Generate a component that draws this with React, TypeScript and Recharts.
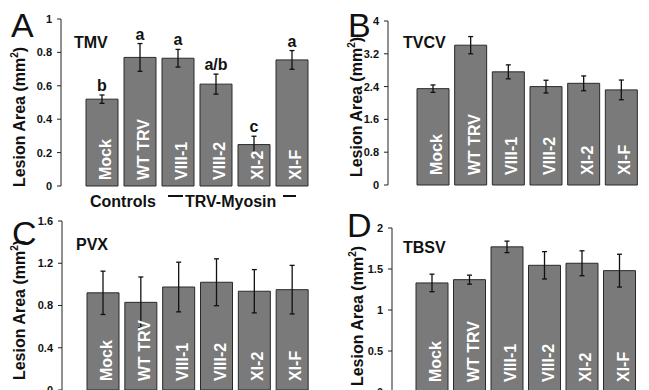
import { BarChart, Bar, XAxis, YAxis, ErrorBar, LabelList } from 'recharts';

const GROUPS = ['Mock', 'WT TRV', 'VIII-1', 'VIII-2', 'XI-2', 'XI-F'];

const TMV_MEAN = [0.52, 0.77, 0.765, 0.61, 0.248, 0.755];
const TMV_ERR = [0.025, 0.083, 0.053, 0.06, 0.05, 0.056];
const TMV_SIG = ['b', 'a', 'a', 'a/b', 'c', 'a'];
const TMV_TICKS = [0, 0.2, 0.4, 0.6, 0.8, 1];

const TVCV_MEAN = [2.35, 3.41, 2.76, 2.4, 2.48, 2.32];
const TVCV_ERR = [0.09, 0.21, 0.17, 0.155, 0.18, 0.24];
const TVCV_TICKS = [0, 0.8, 1.6, 2.4, 3.2, 4];

const PVX_MEAN = [0.92, 0.83, 0.975, 1.02, 0.935, 0.95];
const PVX_ERR = [0.205, 0.24, 0.235, 0.222, 0.205, 0.23];
const PVX_TICKS = [0, 0.4, 0.8, 1.2, 1.6];

const TBSV_MEAN = [1.33, 1.37, 1.77, 1.545, 1.57, 1.48];
const TBSV_ERR = [0.107, 0.055, 0.07, 0.167, 0.152, 0.2];
const TBSV_TICKS = [0, 0.5, 1, 1.5, 2];

const FONT = '"Liberation Sans", Arial, Helvetica, sans-serif';
const INK = '#222';

type PanelProps = {
  left: number;
  top: number;
  width: number;
  height: number;
  margin: { top: number; right: number; bottom: number; left: number };
  pad: { left: number; right: number };
  mean: number[];
  err: number[];
  ticks: number[];
  sig?: string[];
  lift: number;
};

function Panel({ left, top, width, height, margin, pad, mean, err, ticks, sig, lift }: PanelProps) {
  const data = GROUPS.map((name, i) => ({ name, value: mean[i], err: err[i], sig: sig ? sig[i] : '' }));
  const max = ticks[ticks.length - 1];

  // group name written upward inside each bar
  const inside = (p: any) => {
    const vb = p.viewBox ?? p;
    const cx = vb.x + vb.width / 2 + 9;
    const by = vb.y + vb.height - lift;
    return (
      <text
        x={cx}
        y={by}
        transform={`rotate(-90, ${cx}, ${by})`}
        fill="#fff"
        fontSize={16}
        fontWeight={700}
        textAnchor="start"
      >
        {p.value}
      </text>
    );
  };

  // significance letter just above the error bar
  const letter = (p: any) => {
    if (!p.value) return null;
    const vb = p.viewBox ?? p;
    const i = p.index ?? 0;
    const errTop = vb.y - (err[i] * vb.height) / mean[i];
    return (
      <text x={vb.x + vb.width / 2} y={errTop - 4} fill="#111" fontSize={16} fontWeight={700} textAnchor="middle">
        {p.value}
      </text>
    );
  };

  return (
    <div style={{ position: 'absolute', left, top }}>
      <BarChart width={width} height={height} data={data} margin={margin}>
        <XAxis dataKey="name" tick={false} tickLine={false} height={0} padding={pad} axisLine={{ stroke: INK }} />
        <XAxis
          xAxisId="top"
          orientation="top"
          dataKey="name"
          tick={false}
          tickLine={false}
          height={0}
          axisLine={{ stroke: INK }}
        />
        <YAxis
          domain={[0, max]}
          ticks={ticks}
          width={30}
          tickSize={4}
          tickMargin={5}
          interval={0}
          axisLine={{ stroke: INK }}
          tickLine={{ stroke: INK }}
          tick={{ fontSize: 11, fontWeight: 700, fill: '#111' }}
        />
        <YAxis
          yAxisId="right"
          orientation="right"
          domain={[0, max]}
          width={0}
          tick={false}
          tickLine={false}
          axisLine={{ stroke: INK }}
        />
        <Bar dataKey="value" fill="#7a7a7a" stroke="#2a2a2a" strokeWidth={1} barSize={32} isAnimationActive={false}>
          <ErrorBar dataKey="err" width={2.5} stroke="#111" strokeWidth={1.3} isAnimationActive={false} />
          <LabelList dataKey="name" content={inside} />
          {sig && <LabelList dataKey="sig" content={letter} />}
        </Bar>
      </BarChart>
    </div>
  );
}

function YTitle({ x, y }: { x: number; y: number }) {
  return (
    <text x={x} y={y} transform={`rotate(-90, ${x}, ${y})`} textAnchor="middle" fontSize={16} fontWeight={700} fill="#111">
      Lesion Area (mm
      <tspan fontSize={10} dy={-7}>2</tspan>
      <tspan dy={7}>)</tspan>
    </text>
  );
}

export default function App() {
  return (
    <div
      style={{
        position: 'absolute',
        left: 0,
        top: 0,
        width: 649,
        height: 390,
        overflow: 'hidden',
        background: '#fff',
        fontFamily: FONT,
      }}
    >
      <Panel
        left={0}
        top={0}
        width={340}
        height={200}
        margin={{ top: 19, right: 8, bottom: 14, left: 31 }}
        pad={{ left: 22, right: 21 }}
        mean={TMV_MEAN}
        err={TMV_ERR}
        ticks={TMV_TICKS}
        sig={TMV_SIG}
        lift={6}
      />
      <Panel
        left={340}
        top={0}
        width={330}
        height={200}
        margin={{ top: 21, right: 8, bottom: 15, left: 18 }}
        pad={{ left: 26, right: 22 }}
        mean={TVCV_MEAN}
        err={TVCV_ERR}
        ticks={TVCV_TICKS}
        lift={10}
      />
      <Panel
        left={0}
        top={200}
        width={340}
        height={200}
        margin={{ top: 21, right: 8, bottom: 10, left: 32 }}
        pad={{ left: 22, right: 21 }}
        mean={PVX_MEAN}
        err={PVX_ERR}
        ticks={PVX_TICKS}
        lift={9}
      />
      <Panel
        left={340}
        top={200}
        width={330}
        height={200}
        margin={{ top: 28, right: 10, bottom: 8, left: 22 }}
        pad={{ left: 21, right: 22 }}
        mean={TBSV_MEAN}
        err={TBSV_ERR}
        ticks={TBSV_TICKS}
        lift={10}
      />

      {/* panel letters, titles and the group caption */}
      <svg
        width={649}
        height={390}
        style={{ position: 'absolute', left: 0, top: 0, pointerEvents: 'none', fontFamily: FONT }}
      >
        <g fill="#111" fontSize={34}>
          <text x={11} y={37}>A</text>
          <text x={348} y={37}>B</text>
          <text x={12} y={245}>C</text>
          <text x={347} y={237}>D</text>
        </g>
        <YTitle x={25} y={117} />
        <YTitle x={362} y={107} />
        <YTitle x={25} y={310} />
        <YTitle x={363} y={316} />
        <g fill="#111" fontSize={16} fontWeight={700}>
          <text x={74} y={48}>TMV</text>
          <text x={403} y={48}>TVCV</text>
          <text x={76} y={250}>PVX</text>
          <text x={403} y={253}>TBSV</text>
          <text x={90} y={206.5}>Controls</text>
          <text x={185} y={206.5}>TRV-Myosin</text>
        </g>
        <rect x={168} y={195} width={15} height={2} fill="#111" />
        <rect x={283} y={195} width={13} height={2} fill="#111" />
      </svg>
    </div>
  );
}
